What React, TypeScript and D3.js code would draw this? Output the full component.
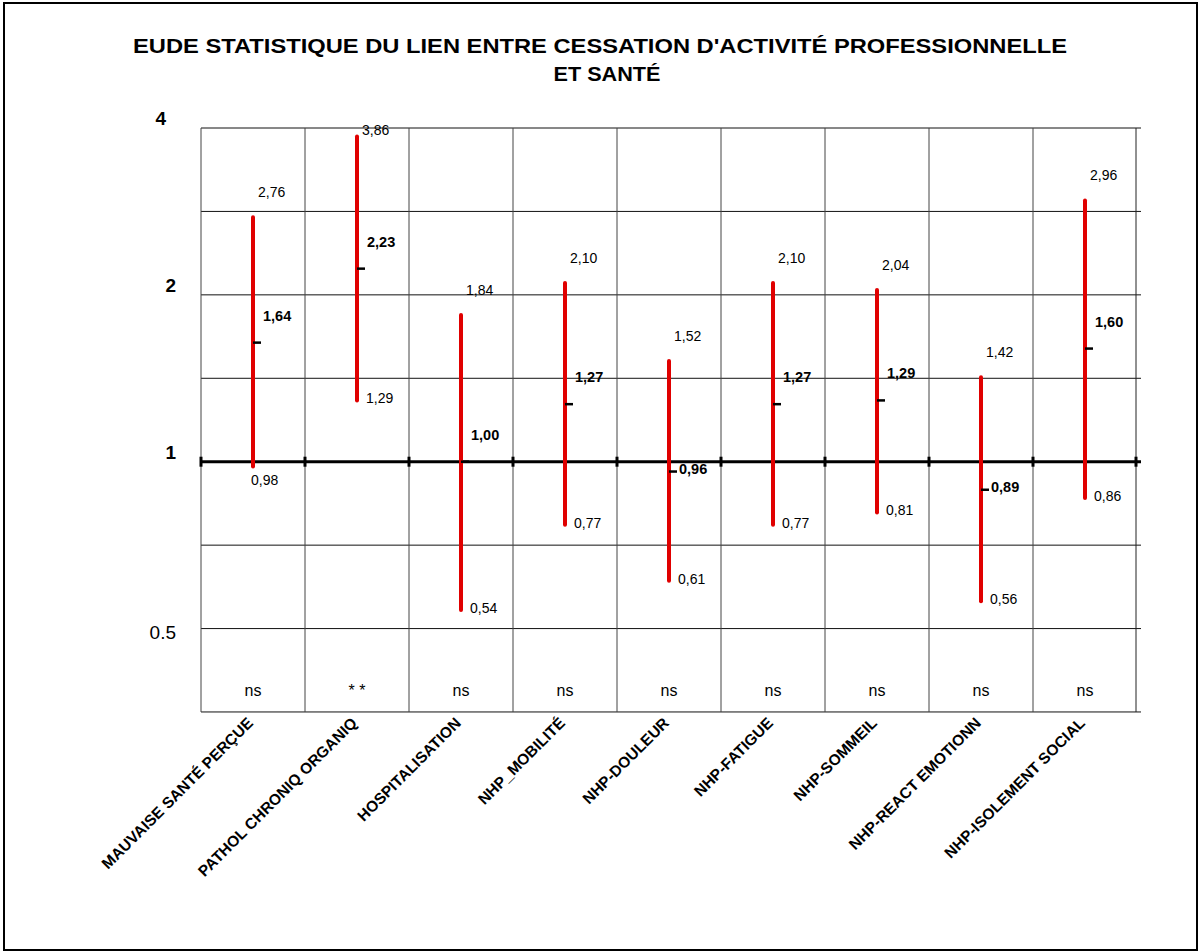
import React from "react";
import * as d3 from "d3";

const title1 = "EUDE STATISTIQUE DU LIEN ENTRE CESSATION D'ACTIVITÉ PROFESSIONNELLE";
const title2 = "ET SANTÉ";

const categories = [
  "MAUVAISE SANTÉ PERÇUE",
  "PATHOL CHRONIQ ORGANIQ",
  "HOSPITALISATION",
  "NHP_MOBILITÉ",
  "NHP-DOULEUR",
  "NHP-FATIGUE",
  "NHP-SOMMEIL",
  "NHP-REACT EMOTIONN",
  "NHP-ISOLEMENT SOCIAL",
];
const high = [2.76, 3.86, 1.84, 2.1, 1.52, 2.1, 2.04, 1.42, 2.96];
const mid = [1.64, 2.23, 1.0, 1.27, 0.96, 1.27, 1.29, 0.89, 1.6];
const low = [0.98, 1.29, 0.54, 0.77, 0.61, 0.77, 0.81, 0.56, 0.86];
const signif = ["ns", "* *", "ns", "ns", "ns", "ns", "ns", "ns", "ns"];

const yTickValues = [4, 2, 1, 0.5];
const yTickLabels = ["4", "2", "1", "0.5"];
const gridValues = [4, 2.8284, 2, 1.4142, 1, 0.7071, 0.5, 0.3536];

const W = 1199;
const H = 952;
const L = 201;
const R = 1137;
const T = 128;
const B = 712;
const FONT = "'Liberation Sans', Arial, sans-serif";
const fmt = (v: number) => v.toFixed(2).replace(".", ",");

export default function App() {
  const x = d3.scaleBand<string>().domain(categories).range([L, R]).padding(0);
  const y = d3.scaleLog().base(2).domain([0.35355, 4]).range([B, T]);
  const red = "#e00000";
  const y1 = y(1);

  return (
    <svg
      width={W}
      height={H}
      style={{ position: "absolute", left: 0, top: 0, background: "#fff" }}
      fontFamily={FONT}
    >
      <rect x={4} y={3} width={1193} height={947} fill="#fff" stroke="#000" strokeWidth={2} />
      <text x={600} y={53} textAnchor="middle" fontSize={21} fontWeight="bold" textLength={934} lengthAdjust="spacingAndGlyphs">
        {title1}
      </text>
      <text x={607} y={81} textAnchor="middle" fontSize={21} fontWeight="bold" textLength={107} lengthAdjust="spacingAndGlyphs">
        {title2}
      </text>

      {/* horizontal grid */}
      {gridValues.map((g, i) => (
        <line key={"h" + i} x1={L} x2={R + 4} y1={y(g)} y2={y(g)} stroke="#111" strokeWidth={1} />
      ))}
      {/* vertical grid */}
      {categories.map((c, i) => (
        <line key={"v" + i} x1={x(c)!} x2={x(c)!} y1={T} y2={B} stroke="#444" strokeWidth={1} />
      ))}
      <line x1={R - 1} x2={R - 1} y1={T} y2={B} stroke="#222" strokeWidth={1} />

      {/* reference line at 1 */}
      <line x1={L} x2={R + 4} y1={y1} y2={y1} stroke="#000" strokeWidth={3} />
      {[...categories.map((c) => x(c)!), R - 1].map((xx, i) => (
        <line key={"t" + i} x1={xx} x2={xx} y1={y1 - 5} y2={y1 + 5} stroke="#000" strokeWidth={3} />
      ))}

      {/* y tick labels */}
      {yTickValues.map((v, i) => (
        <text
          key={"yl" + i}
          x={v === 4 ? 166 : 176}
          y={v === 0.5 ? y(v) + 10 : y(v) - 3}
          textAnchor="end"
          fontSize={19}
          fontWeight={v === 0.5 ? "normal" : "bold"}
        >
          {yTickLabels[i]}
        </text>
      ))}

      {/* error bars */}
      {categories.map((c, i) => {
        const cx = x(c)! + x.bandwidth() / 2;
        const yh = y(high[i]);
        const yl = y(low[i]);
        const ym = y(mid[i]);
        const lowNearRef = Math.abs(yl - y1) < 14;
        const midBelow = mid[i] < 1;
        return (
          <g key={"b" + i}>
            <line x1={cx} x2={cx} y1={yh} y2={yl} stroke={red} strokeWidth={4} strokeLinecap="round" />
            <line x1={cx} x2={cx + 8} y1={ym} y2={ym} stroke="#000" strokeWidth={2.5} />
            <text x={cx + 5} y={Math.max(yh - 20, T + 7)} fontSize={14}>
              {fmt(high[i])}
            </text>
            <text
              x={cx + 10}
              y={midBelow ? ym + 2 : ym - 22}
              fontSize={14.5}
              fontWeight="bold"
            >
              {fmt(mid[i])}
            </text>
            <text
              x={lowNearRef ? cx - 2 : cx + 9}
              y={lowNearRef ? yl + 18 : yl + 3}
              fontSize={14}
            >
              {fmt(low[i])}
            </text>
            <text x={cx} y={B - 16} textAnchor="middle" fontSize={16}>
              {signif[i]}
            </text>
            <text
              transform={`translate(${cx + 1},${B + 12}) rotate(-45)`}
              textAnchor="end"
              fontSize={15.5}
              fontWeight="bold"
            >
              {c}
            </text>
          </g>
        );
      })}
    </svg>
  );
}
